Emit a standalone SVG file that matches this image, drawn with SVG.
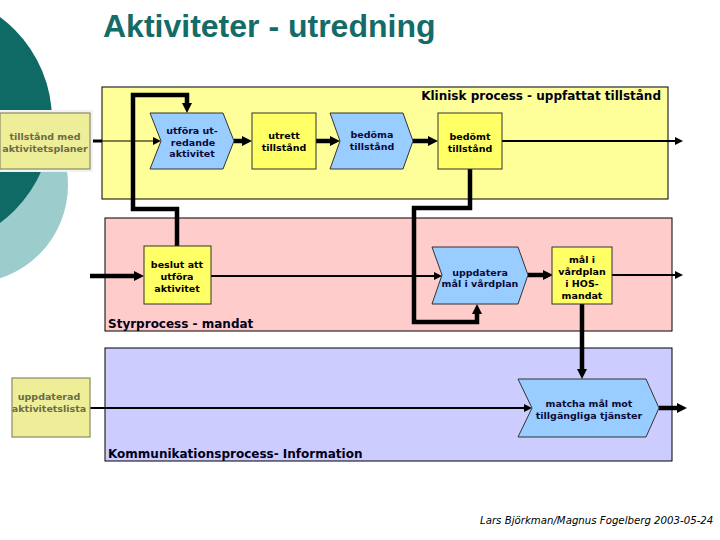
<svg xmlns="http://www.w3.org/2000/svg" width="720" height="540" viewBox="0 0 720 540">
  <style>
    .title { font-family: "Liberation Sans", Arial, sans-serif; font-weight: bold; font-size: 32px; fill: #136C68; }
    .plabel { font-family: "DejaVu Sans", Verdana, sans-serif; font-weight: bold; font-size: 12px; fill: #000018; }
    .ntext { font-family: "DejaVu Sans", Verdana, sans-serif; font-weight: bold; font-size: 9.5px; fill: #000000; text-anchor: middle; }
    .ctext { font-family: "DejaVu Sans", Verdana, sans-serif; font-weight: bold; font-size: 9.5px; fill: #0A0A3A; text-anchor: middle; }
    .gtext { font-family: "DejaVu Sans", Verdana, sans-serif; font-weight: bold; font-size: 9.5px; fill: #6B6B48; text-anchor: middle; }
    .footer { font-family: "DejaVu Sans", Verdana, sans-serif; font-style: italic; font-size: 10.2px; fill: #000000; }
    .chev { fill: #99CCFF; stroke: #333333; stroke-width: 1; }
    .ybox { fill: #FFFF66; stroke: #333333; stroke-width: 1; }
    .kbox { fill: #EEEE99; stroke: #8A8A66; stroke-width: 1.2; }
    .thick { fill: none; stroke: #000; stroke-width: 4.5; stroke-linejoin: miter; marker-end: url(#ahBig); }
    .thin { fill: none; stroke: #000; stroke-width: 2; marker-end: url(#ahSmall); }
  </style>
  <defs>
    <marker id="ahBig" viewBox="0 0 10 10" refX="2" refY="5" markerWidth="10" markerHeight="10" orient="auto" markerUnits="userSpaceOnUse">
      <path d="M0,0 L10,5 L0,10 z" fill="#000"/>
    </marker>
    <marker id="ahSmall" viewBox="0 0 8 8" refX="2" refY="4" markerWidth="8" markerHeight="8" orient="auto" markerUnits="userSpaceOnUse">
      <path d="M0,0 L8,4 L0,8 z" fill="#000"/>
    </marker>
  </defs>

  <rect width="720" height="540" fill="#FFFFFF"/>

  <g id="background">
    <circle cx="-30" cy="185" r="98" fill="#9CCCCC"/>
    <circle cx="-76" cy="120" r="128" fill="#0F6A66"/>
  </g>

  <text class="title" x="103" y="37">Aktiviteter - utredning</text>

  <g id="panels">
    <rect x="102" y="87" width="566" height="112" fill="#FFFF99" stroke="#000" stroke-width="1"/>
    <rect x="105" y="218" width="567" height="113" fill="#FFCCCC" stroke="#000" stroke-width="1"/>
    <rect x="105" y="348" width="567" height="113" fill="#CCCCFF" stroke="#000" stroke-width="1"/>
  </g>

  <g id="connectors">
    <path d="M90,141 H102" stroke="#000" stroke-width="3" fill="none"/>
    <path d="M102,141 H155" fill="none" stroke="#000" stroke-width="1.2" marker-end="url(#ahSmall)"/>
    <path class="thick" d="M234,141 H244"/>
    <path class="thick" d="M316,141 H332"/>
    <path class="thick" d="M413,141 H430"/>
    <path class="thin" d="M502,141 H677"/>
    <path class="thick" d="M177,246 V209 H133 V95 H187 V105"/>
    <path class="thick" d="M90,276 H136"/>
    <path class="thin" d="M211,276 H436"/>
    <path class="thick" d="M470,169 V208 H414 V322 H477 V312"/>
    <path class="thick" d="M528,275 H545"/>
    <path class="thin" d="M612,275 H677"/>
    <path class="thick" d="M582,304 V371"/>
    <path class="thick" d="M659,408 H679"/>
    <path class="thin" d="M90,408 H526" stroke-width="2.5"/>
  </g>

  <g id="node-tillstand-med">
    <rect x="0" y="110" width="93" height="62" fill="#F2F2F2"/>
    <rect class="kbox" x="0" y="113" width="90" height="56"/>
    <text class="gtext" x="45" y="139.5">tillstånd med</text>
    <text class="gtext" x="45" y="151.5">aktivitetsplaner</text>
  </g>

  <g id="node-utfora">
    <polygon class="chev" points="150,113 223,113 234,141 223,169 150,169 161,141"/>
    <text class="ctext" x="192" y="134">utföra ut-</text>
    <text class="ctext" x="193" y="145.5">redande</text>
    <text class="ctext" x="192" y="157">aktivitet</text>
  </g>

  <g id="node-utrett">
    <rect class="ybox" x="252" y="113" width="64" height="56"/>
    <text class="ntext" x="284" y="139">utrett</text>
    <text class="ntext" x="284" y="151">tillstånd</text>
  </g>

  <g id="node-bedoma">
    <polygon class="chev" points="330,113 403,113 413,141 403,169 330,169 340,141"/>
    <text class="ctext" x="372" y="138">bedöma</text>
    <text class="ctext" x="372" y="150">tillstånd</text>
  </g>

  <g id="node-bedomt">
    <rect class="ybox" x="438" y="113" width="64" height="56"/>
    <text class="ntext" x="470" y="140">bedömt</text>
    <text class="ntext" x="470" y="152">tillstånd</text>
  </g>

  <g id="node-beslut">
    <rect class="ybox" x="144" y="246" width="67" height="58"/>
    <text class="ntext" x="177" y="268">beslut att</text>
    <text class="ntext" x="177" y="280">utföra</text>
    <text class="ntext" x="177" y="292">aktivitet</text>
  </g>

  <g id="node-uppdatera">
    <polygon class="chev" points="432,247 518,247 528,275 518,304 432,304 442,275"/>
    <text class="ctext" x="480" y="275.5">uppdatera</text>
    <text class="ctext" x="480" y="287">mål i vårdplan</text>
  </g>

  <g id="node-mal">
    <rect class="ybox" x="552" y="247" width="60" height="57"/>
    <text class="ntext" x="582" y="263">mål i</text>
    <text class="ntext" x="582" y="275">vårdplan</text>
    <text class="ntext" x="582" y="287">i HOS-</text>
    <text class="ntext" x="582" y="298.5">mandat</text>
  </g>

  <g id="node-matcha">
    <polygon class="chev" points="518,379 646,379 659,408 646,437 518,437 532,408"/>
    <text class="ctext" x="589" y="407">matcha mål mot</text>
    <text class="ctext" x="589" y="418.5">tillgängliga tjänster</text>
  </g>

  <g id="node-uppdaterad">
    <rect class="kbox" x="12" y="378" width="78" height="59"/>
    <text class="gtext" x="49" y="400">uppdaterad</text>
    <text class="gtext" x="49" y="412">aktivitetslista</text>
  </g>

  <g id="panel-labels">
    <text class="plabel" x="661" y="100" text-anchor="end">Klinisk process - uppfattat tillstånd</text>
    <text class="plabel" x="108" y="328">Styrprocess - mandat</text>
    <text class="plabel" x="108" y="458">Kommunikationsprocess- Information</text>
  </g>

  <text class="footer" x="480" y="524">Lars Björkman/Magnus Fogelberg 2003-05-24</text>
</svg>
